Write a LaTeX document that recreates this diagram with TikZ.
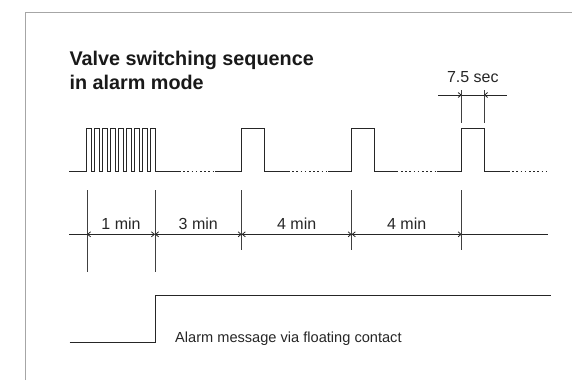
\documentclass[tikz,border=0pt]{standalone}
\usepackage{fontspec}
\setmainfont{Liberation Sans}
\usetikzlibrary{arrows.meta}
\begin{document}
\begin{tikzpicture}[x=1pt,y=-1pt,
  sig/.style={line width=1pt,draw=black!85},
  dotsig/.style={line width=1pt,draw=black!85,dash pattern=on 1.6pt off 2.6pt},
  dimline/.style={line width=0.8pt,draw=black!85},
  dimarr/.style={dimline,{Straight Barb[length=3pt,width=5pt]}-{Straight Barb[length=3pt,width=5pt]}},
  tickline/.style={line width=0.9pt,draw=black!75},
  frameline/.style={line width=0.9pt,draw=black!35},
  lbl/.style={font=\fontsize{16}{19}\selectfont,inner sep=0pt,anchor=base,text=black!85},
  ttl/.style={font=\fontsize{19.8}{23}\selectfont\bfseries,inner sep=0pt,anchor=base west,text=black!90},
  note/.style={font=\fontsize{14.6}{17}\selectfont,inner sep=0pt,anchor=base west,text=black!85}]
\useasboundingbox (0,0) rectangle (572,380);
% frame
\draw[frameline] (25,380) -- (25,12) -- (572,12);
% title
\node[ttl] (title1) at (69.3,65.7) {Valve switching sequence};
\node[ttl] (title2) at (69.3,89.4) {in alarm mode};
% pulse train
\draw[sig] (69.3,171) -- (86.7,171)
  \foreach \i in {0,...,8} { -- ({86.7+\i*7.94},171) -- ({86.7+\i*7.94},128.3) -- ({86.7+\i*7.94+4.78},128.3) -- ({86.7+\i*7.94+4.78},171) }
  -- (179,171);
\draw[dotsig] (179,171) -- (215,171);
\draw[sig] (215,171) -- (241.7,171) -- (241.7,128.3) -- (264.3,128.3) -- (264.3,171) -- (288,171);
\draw[dotsig] (288,171) -- (328,171);
\draw[sig] (328,171) -- (351.7,171) -- (351.7,128.3) -- (374,128.3) -- (374,171) -- (396.7,171);
\draw[dotsig] (396.7,171) -- (436.7,171);
\draw[sig] (436.7,171) -- (461.7,171) -- (461.7,128.3) -- (484,128.3) -- (484,171) -- (508,171);
\draw[dotsig] (508,171) -- (548,171);
% ticks
\coordinate (d0) at (87,234.3);
\coordinate (d1) at (155,234.3);
\coordinate (d2) at (241.7,234.3);
\coordinate (d3) at (351.7,234.3);
\coordinate (d4) at (461.7,234.3);
\coordinate (dL) at (69.3,234.3);
\coordinate (dR) at (548,234.3);
\draw[tickline] (87,190) -- (87,272);
\draw[tickline] (155,190) -- (155,272);
\draw[tickline] (241.7,190) -- (241.7,250);
\draw[tickline] (351.7,190) -- (351.7,250);
\draw[tickline] (461.7,190) -- (461.7,250);
% dimension line
\draw[dimline] (dL) -- (d0);
\draw[dimarr] (d0) -- (d1);
\draw[dimarr] (d1) -- (d2);
\draw[dimarr] (d2) -- (d3);
\draw[dimarr] (d3) -- (d4);
\draw[dimline] (d4) -- (dR);
\node[lbl] (l1) at (121,229.5) {1 min};
\node[lbl] (l2) at (198.3,229.5) {3 min};
\node[lbl] (l3) at (296.7,229.5) {4 min};
\node[lbl] (l4) at (406.7,229.5) {4 min};
% 7.5 sec
\coordinate (s0) at (438.3,95);
\coordinate (s1) at (461.7,95);
\coordinate (s2) at (484,95);
\coordinate (s3) at (506.7,95);
\draw[tickline] (461.7,90) -- (461.7,123.3);
\draw[tickline] (484,90) -- (484,123.3);
\draw[dimline,-{Straight Barb[length=3pt,width=5pt]}] (s0) -- (s1);
\draw[dimline] (s1) -- (s2);
\draw[dimline,-{Straight Barb[length=3pt,width=5pt]}] (s3) -- (s2);
\node[lbl] (l5) at (472.8,82.3) {7.5 sec};
% alarm contact
\draw[sig] (69.6,342) -- (155,342) -- (155,295.5) -- (550.5,295.5);
\node[note] (alarm) at (175,342.4) {Alarm message via floating contact};
\end{tikzpicture}
\end{document}
